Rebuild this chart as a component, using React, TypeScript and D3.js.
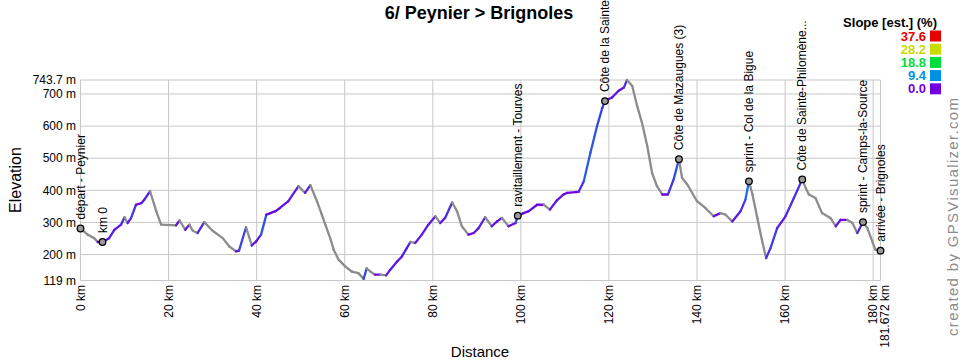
import React from "react";
import * as d3 from "d3";

const width = 960;
const height = 360;
const plot = { left: 80.5, right: 880.5, top: 80, bottom: 280.5 };
const font = "'Liberation Sans', Arial, sans-serif";

// profile: distance (km) and elevation (m)
const distances = [
  0, 1.6, 3.1, 3.9, 5.0, 6.5, 7.7, 9.2, 10.0, 10.7, 11.5, 12.6, 13.8, 14.5, 15.8,
  17.2, 18.3, 21.7, 22.5, 23.8, 24.7, 25.5, 26.6, 28.1, 30.0, 32.3, 33.8, 35.3,
  36.0, 37.6, 38.9, 39.9, 41.0, 42.2, 43.1, 44.3, 45.3, 47.2, 49.5, 51.0, 52.2,
  53.7, 54.8, 55.6, 56.7, 57.5, 58.6, 60.1, 61.6, 63.1, 64.3, 65.0, 65.8, 66.9,
  68.1, 69.4, 70.3, 71.9, 73.0, 74.1, 74.9, 76.0, 77.5, 79.0, 80.6, 81.7, 82.8,
  84.4, 85.5, 86.6, 88.1, 89.3, 90.4, 91.9, 93.4, 94.6, 95.7, 97.2, 98.8, 99.3,
  100.6, 101.8, 103.7, 105.2, 106.6, 108.2, 109.7, 110.5, 113.1, 114.3, 115.8,
  117.3, 118.5, 119.1, 120.7, 122.2, 123.4, 124.1, 125.3, 126.4, 127.5, 128.7,
  129.8, 130.9, 132.1, 133.4, 134.7, 135.9, 136.6, 137.8, 140.0, 141.9, 143.8,
  145.3, 146.5, 148.0, 149.9, 151.0, 151.8, 152.6, 153.7, 154.8, 155.7, 156.7,
  158.2, 160.1, 162.0, 163.9, 164.7, 165.4, 166.9, 168.4, 170.3, 171.5, 172.6,
  174.1, 175.3, 176.4, 177.7, 178.7, 179.8, 180.5, 181.672
];
const elevations = [
  281, 262, 251, 239, 239, 251, 277, 293, 316, 298, 314, 355, 360, 371, 397,
  335, 293, 291, 306, 277, 293, 274, 267, 301, 274, 251, 225, 210,
  212, 285, 228, 241, 262, 324, 329, 335, 345, 366, 413, 392, 416,
  366, 324, 293, 251, 215, 184, 163, 147, 142, 124, 157, 147, 137,
  137, 135, 152, 178, 194, 220, 239, 236, 262, 293, 319, 298, 314,
  362, 335, 288, 262, 267, 282, 316, 288, 303, 314, 288, 298, 321,
  329, 335, 355, 355, 340, 369, 387, 392, 395, 428, 517,
  600, 657, 678, 689, 710, 720, 743.7, 725, 663, 611, 538,
  454, 413, 387, 387, 434, 497, 439, 418, 366, 345, 319,
  329, 324, 303, 335, 371, 428, 387, 314, 241, 189, 220,
  282, 319, 376, 434, 407, 387, 376, 329, 314, 288, 308,
  308, 298, 267, 301, 282, 241, 215, 212
];

const totalKm = 181.672;
const minElev = 119;
const maxElev = 743.7;
const xTicks = [0, 20, 40, 60, 80, 100, 120, 140, 160, 180];
const yTicks = [200, 300, 400, 500, 600, 700];

const waypointNames = [
  "départ - Peynier",
  "km 0",
  "ravitaillement - Tourves",
  "Côte de la Sainte-Baume",
  "Côte de Mazaugues (3)",
  "sprint - Col de la Bigue",
  "Côte de Sainte-Philomène...",
  "sprint - Camps-la-Source",
  "arrivée - Brignoles"
];
const waypointKm = [0, 5.0, 99.3, 119.1, 135.9, 151.8, 163.9, 177.7, 181.672];

const slopeSteps = [37.6, 28.2, 18.8, 9.4, 0.0];
const slopeColors = ["#e80000", "#c8dc00", "#00dc3c", "#0090e4", "#7000e0"];

const x = d3.scaleLinear().domain([0, totalKm]).range([plot.left, plot.right]);
const y = d3.scaleLinear().domain([minElev, maxElev]).range([plot.bottom, plot.top]);
const slopeColor = d3
  .scaleLinear<string>()
  .domain([...slopeSteps].reverse())
  .range([...slopeColors].reverse())
  .clamp(true);
const elevAt = d3.scaleLinear().domain(distances).range(elevations);

export default function App() {
  const segments = d3.pairs(d3.zip(distances, elevations)).map(([a, b]) => {
    const slope = ((b[1] - a[1]) / ((b[0] - a[0]) * 1000)) * 100;
    return {
      x1: x(a[0]),
      y1: y(a[1]),
      x2: x(b[0]),
      y2: y(b[1]),
      color: slope < 0 ? "#8c8c8c" : slopeColor(slope)
    };
  });

  const grid = "#c8c8c8";

  return (
    <svg
      width={width}
      height={height}
      style={{ position: "absolute", left: 0, top: 0, background: "#fff" }}
      fontFamily={font}
    >
      {/* grid */}
      {yTicks.concat([minElev, maxElev]).map(t => (
        <line key={"h" + t} x1={plot.left} x2={plot.right} y1={y(t)} y2={y(t)} stroke={grid} />
      ))}
      {xTicks.concat([totalKm]).map(t => (
        <line key={"v" + t} x1={x(t)} x2={x(t)} y1={plot.top} y2={plot.bottom} stroke={grid} />
      ))}

      {/* y labels */}
      {yTicks.concat([minElev, maxElev]).map(t => (
        <text key={"yl" + t} x={76} y={y(t)} dy="0.35em" textAnchor="end" fontSize={12}>
          {t + " m"}
        </text>
      ))}

      {/* x labels */}
      {xTicks.concat([totalKm]).map(t => (
        <text
          key={"xl" + t}
          transform={`translate(${x(t) + (t === totalKm ? 8 : 4)},285) rotate(-90)`}
          textAnchor="end"
          fontSize={12}
        >
          {t + " km"}
        </text>
      ))}

      {/* profile */}
      {segments.map((s, i) => (
        <line
          key={"s" + i}
          x1={s.x1}
          y1={s.y1}
          x2={s.x2}
          y2={s.y2}
          stroke={s.color}
          strokeWidth={2.3}
          strokeLinecap="round"
        />
      ))}

      {/* waypoints */}
      {waypointNames.map((name, i) => {
        const px = x(waypointKm[i]);
        const py = y(elevAt(waypointKm[i]));
        return (
          <g key={"w" + i}>
            <circle cx={px} cy={py} r={3.3} fill="#9a9a9a" stroke="#000" strokeWidth={1.3} />
            <text transform={`translate(${px + 4},${py - 9}) rotate(-90)`} fontSize={12}>
              {name}
            </text>
          </g>
        );
      })}

      {/* titles */}
      <text x={479} y={19} textAnchor="middle" fontSize={18} fontWeight="bold">
        6/ Peynier &gt; Brignoles
      </text>
      <text transform="translate(20.5,180) rotate(-90)" textAnchor="middle" fontSize={16}>
        Elevation
      </text>
      <text x={480} y={357} textAnchor="middle" fontSize={15}>
        Distance
      </text>
      <text
        transform="translate(958,217) rotate(-90)"
        textAnchor="middle"
        fontSize={15}
        fontFamily="'Liberation Sans', Arial, sans-serif"
        fill="#8c8c8c"
        textLength={238}
        lengthAdjust="spacing"
      >
        created by GPSVisualizer.com
      </text>

      {/* legend */}
      <text x={937} y={26.5} textAnchor="end" fontSize={13} fontWeight="bold">
        Slope [est.] (%)
      </text>
      {slopeSteps.map((v, i) => (
        <g key={"lg" + i} transform={`translate(0,${36 + i * 13.2})`}>
          <text x={926} y={4.6} textAnchor="end" fontSize={13} fontWeight="bold" fill={slopeColors[i]}>
            {v.toFixed(1)}
          </text>
          <rect x={930} y={-5.5} width={11} height={11} fill={slopeColors[i]} />
        </g>
      ))}
    </svg>
  );
}
